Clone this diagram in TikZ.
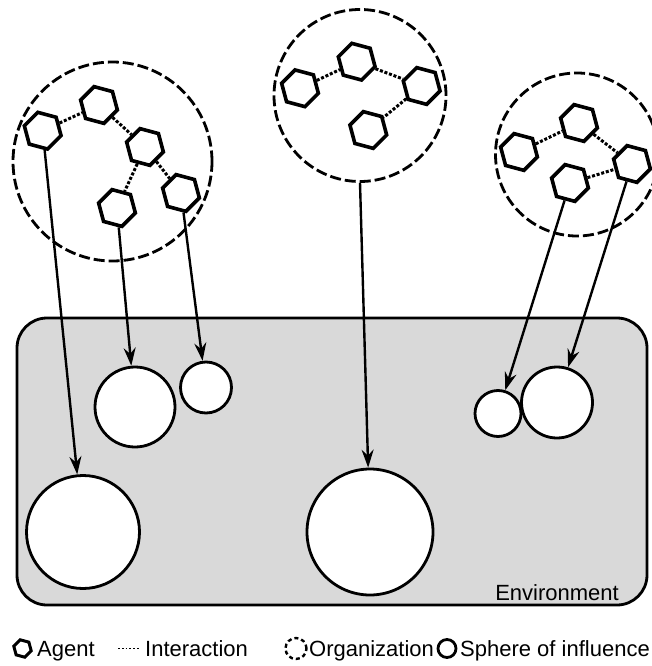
\documentclass[tikz,border=0pt]{standalone}
\usepackage{fontspec}
\setmainfont{Liberation Sans}
\usetikzlibrary{shapes.geometric,arrows.meta}
\definecolor{envgray}{HTML}{D9D9D9}
\begin{document}
\begin{tikzpicture}[x=1pt,y=-1pt,
  agent/.style={regular polygon, regular polygon sides=6, shape border rotate=-15, draw, line width=3.6pt, minimum size=38pt, inner sep=0pt, fill=white},
  org/.style={circle, draw, line width=2.8pt, dash pattern=on 11pt off 4pt, inner sep=0pt},
  sphere/.style={circle, draw, line width=2.8pt, fill=white, inner sep=0pt},
  interact/.style={line width=3pt, dash pattern=on 3pt off 1.8pt},
  infl/.style={line width=2.4pt, -{Stealth[length=18pt,width=12pt,inset=6pt]}},
  lbl/.style={font=\fontsize{22}{26}\selectfont, inner sep=0pt}]
\useasboundingbox (0,0) rectangle (652,666);
% environment
\node[draw, fill=envgray, line width=2.8pt, rounded corners=30pt, minimum width=630pt, minimum height=287pt, inner sep=0pt] (env) at (332,461.5) {};
\node[lbl, anchor=base east] (envlbl) at (619,600) {Environment};
% spheres of influence
\node[sphere, minimum size=113pt] (s1) at (83,532) {};
\node[sphere, minimum size=80pt] (s2) at (135,407) {};
\node[sphere, minimum size=51pt] (s3) at (206,387.5) {};
\node[sphere, minimum size=126pt] (s4) at (370,532) {};
\node[sphere, minimum size=46pt] (s5) at (498,413.5) {};
\node[sphere, minimum size=71pt] (s6) at (557,402.5) {};
% organizations
\node[org, minimum size=199pt] (o1) at (112.5,161.5) {};
\node[org, minimum size=172pt] (o2) at (360,95.5) {};
\node[org, minimum size=163pt] (o3) at (577,154.5) {};
% agents
\node[agent] (a1) at (42.7,130.7) {};
\node[agent] (a2) at (99,105) {};
\node[agent] (a3) at (145,147) {};
\node[agent] (a4) at (117,208) {};
\node[agent] (a5) at (181,193) {};
\node[agent] (b1) at (300,88.3) {};
\node[agent] (b2) at (356.7,61.7) {};
\node[agent] (b3) at (421.7,86) {};
\node[agent] (b4) at (368.3,130) {};
\node[agent] (c1) at (519,152) {};
\node[agent] (c2) at (579,123) {};
\node[agent] (c3) at (632,164) {};
\node[agent] (c4) at (570,183) {};
% interactions
\draw[interact] (a1) -- (a2);
\draw[interact] (a2) -- (a3);
\draw[interact] (a3) -- (a4);
\draw[interact] (a3) -- (a5);
\draw[interact] (b1) -- (b2);
\draw[interact] (b2) -- (b3);
\draw[interact] (b3) -- (b4);
\draw[interact] (c1) -- (c2);
\draw[interact] (c2) -- (c3);
\draw[interact] (c4) -- (c3);
% influences
\draw[infl] (a1) -- (s1);
\draw[infl] (a4) -- (s2);
\draw[infl] (a5) -- (s3);
\draw[infl] (o2.south) -- (s4);
\draw[infl] (c4) -- (s5);
\draw[infl] (c3) -- (s6);
% legend
\node[agent, minimum size=18pt, line width=3pt] (lg1) at (22.5,648.5) {};
\node[lbl, anchor=base west] (lt1) at (37,656) {Agent};
\coordinate (d1) at (118,648.5);
\coordinate (d2) at (140,648.5);
\draw[line width=1.8pt, dash pattern=on 1.8pt off 2pt] (d1) -- (d2);
\node[lbl, anchor=base west] (lt2) at (145,656) {Interaction};
\node[circle, draw, line width=2.4pt, dash pattern=on 4pt off 3pt, minimum size=21pt, inner sep=0pt] (lg3) at (296,648.5) {};
\node[lbl, anchor=base west] (lt3) at (309,656) {Organization};
\node[circle, draw, line width=2.8pt, minimum size=18pt, inner sep=0pt] (lg4) at (447,648.5) {};
\node[lbl, anchor=base west] (lt4) at (460,656) {Sphere of influence};
\end{tikzpicture}
\end{document}
